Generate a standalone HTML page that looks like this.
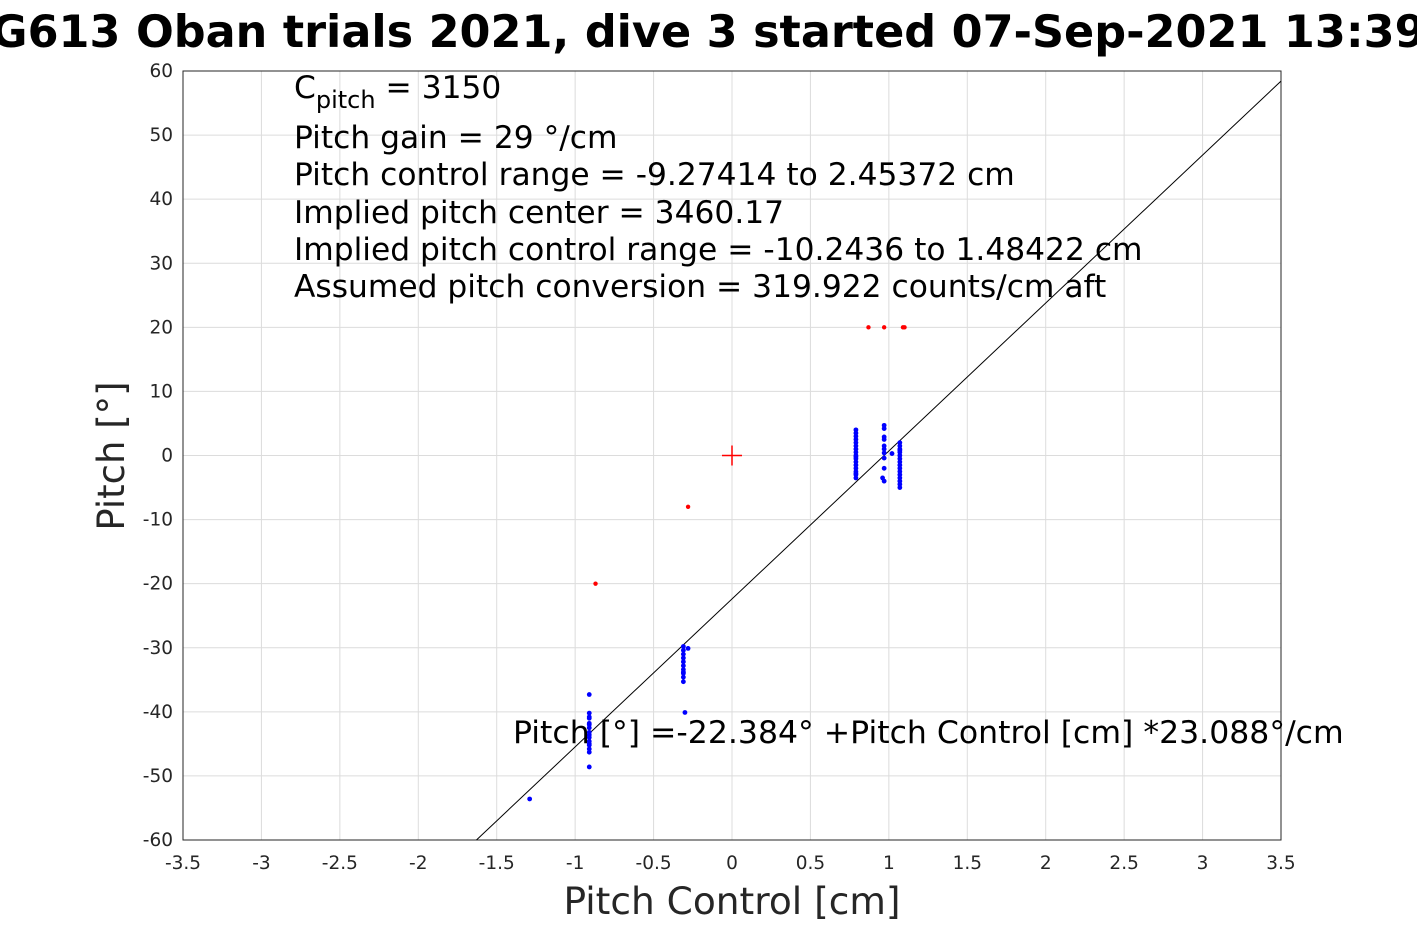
<!DOCTYPE html>
<html><head><meta charset="utf-8"><style>
html,body{margin:0;padding:0;background:#fff;overflow:hidden}
svg{display:block;font-family:"DejaVu Sans","Liberation Sans",sans-serif}
</style></head><body>
<svg id="chart" width="1417" height="945" viewBox="0 0 1417 945">
<text x="-41" y="47" font-size="44.5" font-weight="bold" fill="#000">SG613 Oban trials 2021, dive 3 started 07-Sep-2021 13:39</text>
<g id="grid"></g>
<rect x="183" y="71" width="1098" height="769" fill="none" stroke="#262626" stroke-width="1"/>
<g id="ticks"></g>
<g id="marks"></g>
<text x="732" y="914" font-size="37.5" text-anchor="middle" fill="#262626">Pitch Control [cm]</text>
<text transform="translate(124,456) rotate(-90)" font-size="37" text-anchor="middle" fill="#262626">Pitch [°]</text>
<g font-size="31.3" fill="#000">
<text x="294" y="98">C<tspan font-size="24" dy="10">pitch</tspan><tspan dy="-10"> = 3150</tspan></text>
<text x="294" y="148">Pitch gain = 29 °/cm</text>
<text x="294" y="185">Pitch control range = -9.27414 to 2.45372 cm</text>
<text x="294" y="223">Implied pitch center = 3460.17</text>
<text x="294" y="260">Implied pitch control range = -10.2436 to 1.48422 cm</text>
<text x="294" y="297">Assumed pitch conversion = 319.922 counts/cm aft</text>
</g>
<text x="513" y="743" font-size="31.5" fill="#000">Pitch [°] =-22.384° +Pitch Control [cm] *23.088°/cm</text>
</svg>
<script>
const xTicks=[-3.5,-3,-2.5,-2,-1.5,-1,-0.5,0,0.5,1,1.5,2,2.5,3,3.5];
const yTicks=[60,50,40,30,20,10,0,-10,-20,-30,-40,-50,-60];
const blueX=[0.79,0.79,0.79,0.79,0.79,0.79,0.79,0.79,0.79,0.79,0.79,0.79,0.79,0.79,0.79,0.79,0.79,0.79,
0.97,0.97,0.97,0.97,0.97,0.97,0.97,0.97,0.97,0.96,0.97,1.02,
1.07,1.07,1.07,1.07,1.07,1.07,1.07,1.07,1.07,1.07,1.07,1.07,1.07,1.07,1.07,1.07,
-0.91,-0.91,-0.91,-0.91,-0.91,-0.91,-0.91,-0.91,-0.91,-0.91,-0.91,-0.91,-0.91,-0.91,-0.91,-0.91,
-0.31,-0.31,-0.31,-0.31,-0.31,-0.31,-0.31,-0.31,-0.31,-0.31,-0.31,-0.28,-0.30,-1.29];
const blueY=[4,3.5,3,2.5,2,1.5,1,0.5,0,-0.5,-1,-1.5,-2,-2.5,-3,-3.5,-2.8,-0.2,
4.7,4.2,2.9,2.5,1.5,1,0.4,-0.4,-2,-3.5,-4,0.3,
2,1.5,1,0.5,0,-0.5,-1,-1.5,-2,-2.5,-3,-3.5,-4,-4.5,-5,0.8,
-37.3,-40.2,-41,-41.8,-42.5,-43.2,-44,-44.6,-45.2,-45.8,-46.3,-43.6,-42,-40.8,-48.6,-45,
-29.8,-30.4,-31,-31.6,-32.2,-32.8,-33.4,-34,-34.6,-35.3,-33.8,-30.1,-40.1,-53.6];
const redX=[0.87,0.97,1.09,1.10,-0.87,-0.28];
const redY=[20,20,20,20,-20,-8];
const fitIntercept=-22.384, fitSlope=23.088;
const X0=183,X1=1281,Y0=840,Y1=71;
const sx=v=>X0+(v+3.5)/7*(X1-X0);
const sy=v=>Y0-(v+60)/120*(Y0-Y1);
const NS="http://www.w3.org/2000/svg";
function mk(tag,attrs,parent){const e=document.createElementNS(NS,tag);for(const k in attrs)e.setAttribute(k,attrs[k]);parent.appendChild(e);return e;}
const grid=document.getElementById('grid'),ticks=document.getElementById('ticks'),marks=document.getElementById('marks');
xTicks.forEach(t=>{
 const l=mk('line',{x1:sx(t),x2:sx(t),y1:Y1,y2:Y0,stroke:'#dcdcdc','stroke-width':1},grid);
 
 
 const tx=mk('text',{x:sx(t),y:869,'font-size':18.5,'text-anchor':'middle',fill:'#262626'},ticks);
 tx.textContent=String(t);
 
 
});
yTicks.forEach(t=>{
 const l=mk('line',{x1:X0,x2:X1,y1:sy(t),y2:sy(t),stroke:'#dcdcdc','stroke-width':1},grid);
 
 
 const tx=mk('text',{x:173,y:sy(t)+6,'font-size':18.5,'text-anchor':'end',fill:'#262626'},ticks);
 tx.textContent=String(t);
 
 
});
let xa=(-60-fitIntercept)/fitSlope, xb=3.5;
xa=Math.max(xa,-3.5);
const fl=mk('line',{x1:sx(xa),y1:sy(fitIntercept+fitSlope*xa),x2:sx(xb),y2:sy(fitIntercept+fitSlope*xb),stroke:'#000','stroke-width':1},marks);


blueX.forEach((x,i)=>{
 const c=mk('circle',{cx:sx(x),cy:sy(blueY[i]),r:2.4,fill:'#0000ff'},marks);
 
 
});
redX.forEach((x,i)=>{
 const c=mk('circle',{cx:sx(x),cy:sy(redY[i]),r:2.2,fill:'#ff0000'},marks);
 
 
});
const p=mk('path',{d:`M${sx(0)-10},${sy(0)}H${sx(0)+10}M${sx(0)},${sy(0)-10}V${sy(0)+10}`,stroke:'#ff0000','stroke-width':1.5,fill:'none'},marks);


</script>
</body></html>
